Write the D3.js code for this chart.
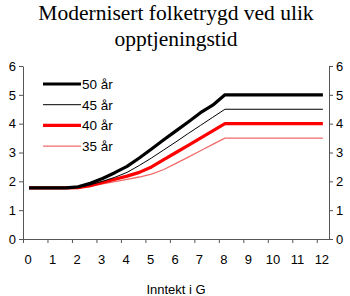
<!DOCTYPE html>
<html>
<head>
<meta charset="utf-8">
<script src="https://cdn.jsdelivr.net/npm/d3@7"></script>
<style>
  html, body { margin: 0; padding: 0; background: #fff; }
  svg { display: block; }
</style>
</head>
<body>
<script>
const titleLines = ["Modernisert folketrygd ved ulik", "opptjeningstid"];
const xTitle = "Inntekt i G";
const xLabels = [0,1,2,3,4,5,6,7,8,9,10,11,12];
const yTicks = [0,1,2,3,4,5,6];
const seriesNames = ["50 år", "45 år", "40 år", "35 år"];
const income = [0,0.5,1,1.5,2,2.5,3,3.5,4,4.5,5,5.5,6,6.5,7,7.5,8,12];
const pension50 = [1.77,1.77,1.77,1.77,1.81,1.93,2.10,2.30,2.52,2.81,3.12,3.44,3.75,4.06,4.38,4.64,5.0,5.0];
const pension45 = [1.77,1.77,1.77,1.77,1.79,1.88,2.00,2.14,2.31,2.55,2.81,3.09,3.37,3.66,3.94,4.22,4.5,4.5];
const pension40 = [1.77,1.77,1.77,1.77,1.78,1.85,1.96,2.07,2.18,2.31,2.50,2.75,3.0,3.25,3.5,3.75,4.0,4.0];
const pension35 = [1.77,1.77,1.77,1.77,1.77,1.83,1.91,1.99,2.07,2.15,2.25,2.41,2.62,2.84,3.06,3.28,3.5,3.5];

const W = 350, H = 296;
const svg = d3.select("body").append("svg").attr("width", W).attr("height", H);

const x = d3.scaleLinear().domain([-0.25, 12.25]).range([23, 329]);
const y = d3.scaleLinear().domain([0, 6]).range([239, 66]);
const axisColor = "#555";

// title
svg.append("g").selectAll("text").data(titleLines).join("text")
  .attr("x", 176).attr("y", (d, i) => 20 + i * 26)
  .attr("text-anchor", "middle")
  .style("font-family", "'Liberation Serif', 'Times New Roman', serif")
  .style("font-size", "21.5px").attr("fill", "#000")
  .text(d => d);

const font = "'Liberation Sans', Arial, sans-serif";
const fmt = d3.format("d");

// left axis
const yl = svg.append("g").attr("transform", `translate(${x(-0.25)},0)`)
  .call(d3.axisLeft(y).tickValues(yTicks).tickFormat(fmt).tickSize(4).tickPadding(3).tickSizeOuter(0));
// right axis
const yr = svg.append("g").attr("transform", `translate(${x(12.25)},0)`)
  .call(d3.axisRight(y).tickValues(yTicks).tickFormat(fmt).tickSize(4).tickPadding(3).tickSizeOuter(0));
// bottom axis: ticks between categories, labels at categories
const xa = svg.append("g").attr("transform", `translate(0,${y(0)})`)
  .call(d3.axisBottom(x).tickValues(xLabels.map(v => v - 0.25)).tickSize(4).tickFormat("").tickSizeOuter(0));
svg.append("g").selectAll("text").data(xLabels).join("text")
  .attr("x", d => x(d) - 1).attr("y", y(0) + 25)
  .attr("text-anchor", "middle")
  .style("font-family", font).style("font-size", "13px").attr("fill", "#000")
  .text(d => d);

[yl, yr, xa].forEach(g => {
  g.selectAll("path, line").attr("stroke", axisColor).attr("stroke-width", 1);
  g.selectAll("text").style("font-family", font).style("font-size", "13px").attr("fill", "#000");
});

svg.append("text").attr("x", 176).attr("y", 294).attr("text-anchor", "middle")
  .style("font-family", font).style("font-size", "13px").attr("fill", "#000")
  .text(xTitle);

const styles = [
  { color: "#000000", width: 3.2 },
  { color: "#000000", width: 1 },
  { color: "#ff0000", width: 3.2 },
  { color: "#f26b6b", width: 1.3 }
];
const data = [pension50, pension45, pension40, pension35];
const line = d3.line().x((d, i) => x(income[i])).y(d => y(d));

// draw from back to front: 35, 40, 45, 50
[3, 2, 1, 0].forEach(k => {
  svg.append("path").datum(data[k])
    .attr("d", line).attr("fill", "none")
    .attr("stroke", styles[k].color).attr("stroke-width", styles[k].width)
    .attr("stroke-linejoin", "round");
});

// legend
const lg = svg.append("g");
seriesNames.forEach((name, k) => {
  const ly = 84 + k * 20.7;
  lg.append("line").attr("x1", 43).attr("x2", 81).attr("y1", ly).attr("y2", ly)
    .attr("stroke", styles[k].color).attr("stroke-width", styles[k].width);
  lg.append("text").attr("x", 82).attr("y", ly + 5)
    .style("font-family", font).style("font-size", "13.5px").attr("fill", "#000")
    .text(name);
});
</script>
</body>
</html>
